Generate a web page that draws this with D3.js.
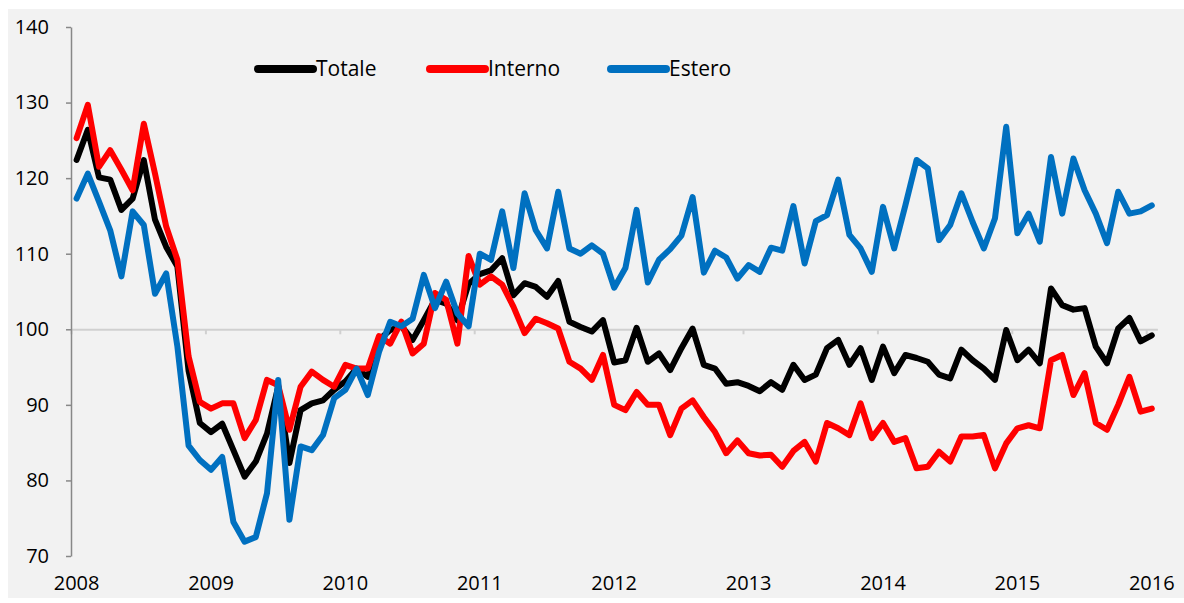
<!DOCTYPE html>
<html>
<head>
<meta charset="utf-8">
<script src="https://cdn.jsdelivr.net/npm/d3@7"></script>
<style>
    html, body { margin: 0; padding: 0; background: #fff; }
    svg { display: block; font-family: 'Open Sans', sans-serif; }
</style>
</head>
<body>
<svg id="chart" width="1184" height="603"></svg>
<script>
// Monthly values, Jan 2008 -> Jan 2016 (97 points)
const totale = [
    122.4, 126.4, 120.1, 119.8, 115.8, 117.3, 122.4, 114.5, 110.9, 108.3, 94.5, 87.6,
    86.4, 87.5, 84.0, 80.5, 82.5, 86.2, 92.4, 82.3, 89.3, 90.2, 90.6, 92.0,
    93.1, 94.8, 93.7, 98.6, 99.9, 100.4, 98.6, 101.2, 103.9, 103.4, 101.2, 106.0,
    107.3, 107.8, 109.4, 104.5, 106.1, 105.6, 104.3, 106.4, 101.0, 100.3, 99.7, 101.2,
    95.6, 95.9, 100.2, 95.7, 96.8, 94.6, 97.5, 100.1, 95.3, 94.8, 92.8, 93.0,
    92.5, 91.8, 93.0, 92.0, 95.3, 93.3, 94.0, 97.5, 98.6, 95.3, 97.5, 93.3,
    97.7, 94.2, 96.6, 96.2, 95.7, 94.0, 93.5, 97.3, 95.9, 94.8, 93.3, 99.9,
    95.9, 97.3, 95.5, 105.4, 103.2, 102.6, 102.8, 97.7, 95.5, 100.1, 101.5, 98.4,
    99.2
];
const interno = [
    125.3, 129.7, 121.5, 123.7, 121.1, 118.4, 127.2, 120.6, 113.6, 109.2, 96.4, 90.4,
    89.5, 90.2, 90.2, 85.6, 88.0, 93.3, 92.6, 86.7, 92.4, 94.4, 93.3, 92.4,
    95.3, 94.8, 94.8, 99.1, 98.1, 101.0, 96.8, 98.1, 104.8, 103.9, 98.1, 109.7,
    105.9, 107.0, 105.9, 103.0, 99.5, 101.4, 100.8, 100.1, 95.7, 94.8, 93.3, 96.6,
    90.0, 89.3, 91.7, 90.0, 90.0, 86.0, 89.5, 90.6, 88.4, 86.4, 83.6, 85.3,
    83.6, 83.3, 83.4, 81.8, 83.9, 85.1, 82.5, 87.6, 86.9, 86.0, 90.2, 85.6,
    87.6, 85.1, 85.6, 81.6, 81.8, 83.8, 82.5, 85.8, 85.8, 86.0, 81.6, 84.9,
    86.9, 87.3, 86.9, 95.9, 96.6, 91.3, 94.2, 87.6, 86.7, 90.0, 93.7, 89.1,
    89.5
];
const estero = [
    117.3, 120.6, 116.9, 113.1, 107.0, 115.6, 113.8, 104.7, 107.4, 97.7, 84.6, 82.7,
    81.4, 83.1, 74.5, 71.9, 72.5, 78.3, 93.3, 74.8, 84.5, 84.0, 86.0, 90.9,
    92.0, 94.8, 91.3, 97.0, 101.0, 100.4, 101.4, 107.2, 102.8, 106.3, 102.1, 100.4,
    110.0, 109.2, 115.6, 108.1, 118.0, 113.1, 110.7, 118.2, 110.7, 110.0, 111.1, 110.0,
    105.5, 108.1, 115.8, 106.2, 109.2, 110.6, 112.4, 117.5, 107.5, 110.4, 109.5, 106.7,
    108.5, 107.6, 110.8, 110.4, 116.3, 108.7, 114.3, 115.1, 119.8, 112.5, 110.7, 107.6,
    116.2, 110.7, 116.4, 122.4, 121.3, 111.8, 113.8, 118.0, 114.2, 110.7, 114.7, 126.8,
    112.7, 115.3, 111.6, 122.8, 115.3, 122.6, 118.4, 115.3, 111.4, 118.2, 115.3, 115.6,
    116.4
];

const years = ['2008', '2009', '2010', '2011', '2012', '2013', '2014', '2015', '2016'];
const yTicks = [70, 80, 90, 100, 110, 120, 130, 140];

const seriesNames = ['Totale', 'Interno', 'Estero'];
const seriesColors = ['#000000', '#ff0000', '#0070c0'];
const seriesData = [totale, interno, estero];

const svg = d3.select('#chart');
const W = +svg.attr('width');
const H = +svg.attr('height');

// gray chart area
svg.append('rect').attr('x', 8).attr('y', 9).attr('width', W - 8).attr('height', H - 14).attr('fill', '#f2f2f2');

// months are placed "between" tick marks, like the category axis in Excel
const nPts = totale.length;
const x = d3.scaleLinear().domain([-0.5, nPts - 0.5]).range([71, 71 + nPts * 11.2]);
const y = d3.scaleLinear().domain([70, 140]).range([556, 27]);

// x axis crosses at 100
const xAxisG = svg
    .append('g')
    .attr('transform', `translate(0,${y(100)})`)
    .call(
        d3
            .axisBottom(x)
            .tickValues(years.map((yr, k) => k * 12 - 0.5))
            .tickFormat('')
            .tickSize(5)
            .tickSizeOuter(0)
    );
xAxisG.select('.domain').attr('stroke', '#d0d0d0').attr('stroke-width', 2);
xAxisG.selectAll('.tick line').attr('stroke', '#d0d0d0').attr('stroke-width', 2);

// y axis
const yAxisG = svg
    .append('g')
    .attr('transform', `translate(${x(-0.5)},0)`)
    .call(d3.axisLeft(y).tickValues(yTicks).tickSize(5).tickSizeOuter(0).tickPadding(17));
yAxisG.select('.domain').attr('stroke', '#888').attr('stroke-width', 1.5);
yAxisG.selectAll('.tick line').attr('stroke', '#888').attr('stroke-width', 1.5);
yAxisG.selectAll('.tick text').attr('font-size', 20).attr('fill', '#000').attr('font-family', "'Open Sans', sans-serif");

// year labels at the bottom
svg.append('g')
    .selectAll('text')
    .data(years)
    .join('text')
    .attr('x', (yr, k) => x(k * 12))
    .attr('y', 583)
    .attr('dy', '0.35em')
    .attr('text-anchor', 'middle')
    .attr('font-size', 20)
    .text((yr) => yr);

// lines: black first, blue on top
const line = d3
    .line()
    .x((v, i) => x(i))
    .y((v) => y(v));

svg.append('g')
    .selectAll('path')
    .data(seriesData)
    .join('path')
    .attr('fill', 'none')
    .attr('stroke', (d, i) => seriesColors[i])
    .attr('stroke-width', 6)
    .attr('stroke-linejoin', 'round')
    .attr('stroke-linecap', 'round')
    .attr('d', line);

// legend
const legendX = [258, 430, 611];
const legend = svg
    .append('g')
    .selectAll('g')
    .data(seriesNames)
    .join('g')
    .attr('transform', (d, i) => `translate(${legendX[i]},69)`);
legend
    .append('line')
    .attr('x1', 0)
    .attr('x2', 55)
    .attr('stroke', (d, i) => seriesColors[i])
    .attr('stroke-width', 8)
    .attr('stroke-linecap', 'round');
legend
    .append('text')
    .attr('x', 58)
    .attr('dy', '0.35em')
    .attr('font-size', 21)
    .text((d) => d);
</script>
</body>
</html>
